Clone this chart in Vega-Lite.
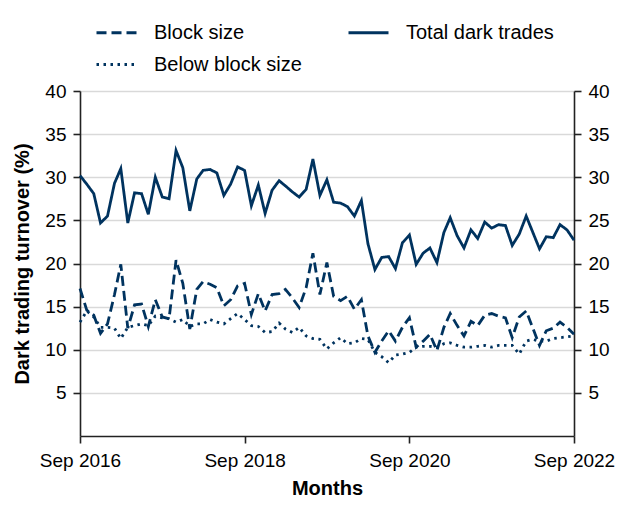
{
  "$schema": "https://vega.github.io/schema/vega-lite/v6.json",
  "description": "Dark trading turnover by trade size, monthly",
  "autosize": {"type": "none"},
  "width": 494,
  "height": 345,
  "padding": {"left": 80, "top": 91, "right": 60, "bottom": 77},
  "config": {
    "font": "Liberation Sans",
    "view": {"stroke": null},
    "axis": {
      "labelFont": "Liberation Sans",
      "labelFontSize": 19,
      "labelColor": "#000000",
      "titleFont": "Liberation Sans",
      "titleFontSize": 20,
      "titleFontWeight": "bold",
      "titleColor": "#000000",
      "domainColor": "#222222",
      "domainWidth": 1.6,
      "tickColor": "#222222",
      "tickWidth": 1.6,
      "tickSize": 7,
      "labelPadding": 7,
      "gridColor": "#d9d9d9",
      "gridWidth": 1.3
    },
    "legend": {
      "labelFont": "Liberation Sans",
      "labelFontSize": 20,
      "labelColor": "#000000"
    }
  },
  "data": {
    "values": [
      {"month": "2016-09", "Block size": 17.1, "Below block size": 13.2, "Total dark trades": 30.2},
      {"month": "2016-10", "Block size": 14.6, "Below block size": 14.5, "Total dark trades": 29.2},
      {"month": "2016-11", "Block size": 14.0, "Below block size": 13.8, "Total dark trades": 28.1},
      {"month": "2016-12", "Block size": 11.9, "Below block size": 12.6, "Total dark trades": 24.7},
      {"month": "2017-01", "Block size": 13.0, "Below block size": 12.6, "Total dark trades": 25.5},
      {"month": "2017-02", "Block size": 16.4, "Below block size": 12.5, "Total dark trades": 29.3},
      {"month": "2017-03", "Block size": 19.9, "Below block size": 11.3, "Total dark trades": 31.0},
      {"month": "2017-04", "Block size": 12.5, "Below block size": 12.6, "Total dark trades": 24.7},
      {"month": "2017-05", "Block size": 15.2, "Below block size": 12.8, "Total dark trades": 28.2},
      {"month": "2017-06", "Block size": 15.3, "Below block size": 13.0, "Total dark trades": 28.1},
      {"month": "2017-07", "Block size": 12.7, "Below block size": 12.8, "Total dark trades": 25.7},
      {"month": "2017-08", "Block size": 15.8, "Below block size": 13.9, "Total dark trades": 30.0},
      {"month": "2017-09", "Block size": 13.8, "Below block size": 13.7, "Total dark trades": 27.7},
      {"month": "2017-10", "Block size": 13.6, "Below block size": 13.6, "Total dark trades": 27.5},
      {"month": "2017-11", "Block size": 20.4, "Below block size": 13.2, "Total dark trades": 33.1},
      {"month": "2017-12", "Block size": 17.7, "Below block size": 13.5, "Total dark trades": 31.1},
      {"month": "2018-01", "Block size": 12.4, "Below block size": 12.7, "Total dark trades": 26.1},
      {"month": "2018-02", "Block size": 17.0, "Below block size": 13.0, "Total dark trades": 29.8},
      {"month": "2018-03", "Block size": 17.9, "Below block size": 13.0, "Total dark trades": 30.8},
      {"month": "2018-04", "Block size": 17.6, "Below block size": 13.5, "Total dark trades": 30.9},
      {"month": "2018-05", "Block size": 17.2, "Below block size": 13.2, "Total dark trades": 30.5},
      {"month": "2018-06", "Block size": 15.1, "Below block size": 13.0, "Total dark trades": 27.9},
      {"month": "2018-07", "Block size": 15.8, "Below block size": 13.6, "Total dark trades": 29.2},
      {"month": "2018-08", "Block size": 17.4, "Below block size": 14.2, "Total dark trades": 31.2},
      {"month": "2018-09", "Block size": 17.7, "Below block size": 13.5, "Total dark trades": 30.8},
      {"month": "2018-10", "Block size": 14.1, "Below block size": 12.8, "Total dark trades": 26.7},
      {"month": "2018-11", "Block size": 16.5, "Below block size": 12.7, "Total dark trades": 29.1},
      {"month": "2018-12", "Block size": 14.5, "Below block size": 12.0, "Total dark trades": 25.8},
      {"month": "2019-01", "Block size": 16.4, "Below block size": 12.1, "Total dark trades": 28.5},
      {"month": "2019-02", "Block size": 16.5, "Below block size": 13.1, "Total dark trades": 29.6},
      {"month": "2019-03", "Block size": 17.0, "Below block size": 12.4, "Total dark trades": 29.0},
      {"month": "2019-04", "Block size": 16.0, "Below block size": 12.0, "Total dark trades": 28.3},
      {"month": "2019-05", "Block size": 14.9, "Below block size": 12.6, "Total dark trades": 27.7},
      {"month": "2019-06", "Block size": 17.2, "Below block size": 11.6, "Total dark trades": 28.6},
      {"month": "2019-07", "Block size": 21.2, "Below block size": 11.3, "Total dark trades": 32.1},
      {"month": "2019-08", "Block size": 16.4, "Below block size": 11.2, "Total dark trades": 27.9},
      {"month": "2019-09", "Block size": 20.1, "Below block size": 10.1, "Total dark trades": 29.7},
      {"month": "2019-10", "Block size": 16.2, "Below block size": 10.8, "Total dark trades": 27.1},
      {"month": "2019-11", "Block size": 15.7, "Below block size": 11.4, "Total dark trades": 27.0},
      {"month": "2019-12", "Block size": 16.2, "Below block size": 10.7, "Total dark trades": 26.6},
      {"month": "2020-01", "Block size": 14.7, "Below block size": 10.8, "Total dark trades": 25.5},
      {"month": "2020-02", "Block size": 15.8, "Below block size": 11.3, "Total dark trades": 27.3},
      {"month": "2020-03", "Block size": 11.6, "Below block size": 11.2, "Total dark trades": 22.3},
      {"month": "2020-04", "Block size": 9.7, "Below block size": 9.7, "Total dark trades": 19.3},
      {"month": "2020-05", "Block size": 11.0, "Below block size": 9.2, "Total dark trades": 20.7},
      {"month": "2020-06", "Block size": 12.2, "Below block size": 8.5, "Total dark trades": 20.8},
      {"month": "2020-07", "Block size": 11.0, "Below block size": 9.4, "Total dark trades": 19.4},
      {"month": "2020-08", "Block size": 12.6, "Below block size": 9.5, "Total dark trades": 22.4},
      {"month": "2020-09", "Block size": 13.7, "Below block size": 9.7, "Total dark trades": 23.3},
      {"month": "2020-10", "Block size": 10.3, "Below block size": 10.3, "Total dark trades": 19.9},
      {"month": "2020-11", "Block size": 11.0, "Below block size": 10.4, "Total dark trades": 21.2},
      {"month": "2020-12", "Block size": 11.8, "Below block size": 10.4, "Total dark trades": 21.8},
      {"month": "2021-01", "Block size": 9.9, "Below block size": 10.3, "Total dark trades": 20.1},
      {"month": "2021-02", "Block size": 12.6, "Below block size": 10.7, "Total dark trades": 23.6},
      {"month": "2021-03", "Block size": 14.2, "Below block size": 10.8, "Total dark trades": 25.3},
      {"month": "2021-04", "Block size": 12.8, "Below block size": 10.5, "Total dark trades": 23.2},
      {"month": "2021-05", "Block size": 11.6, "Below block size": 10.3, "Total dark trades": 21.8},
      {"month": "2021-06", "Block size": 13.3, "Below block size": 10.3, "Total dark trades": 23.9},
      {"month": "2021-07", "Block size": 12.8, "Below block size": 10.4, "Total dark trades": 22.9},
      {"month": "2021-08", "Block size": 14.0, "Below block size": 10.5, "Total dark trades": 24.8},
      {"month": "2021-09", "Block size": 14.2, "Below block size": 10.3, "Total dark trades": 24.1},
      {"month": "2021-10", "Block size": 13.9, "Below block size": 10.5, "Total dark trades": 24.5},
      {"month": "2021-11", "Block size": 13.7, "Below block size": 10.5, "Total dark trades": 24.4},
      {"month": "2021-12", "Block size": 11.4, "Below block size": 10.5, "Total dark trades": 22.1},
      {"month": "2022-01", "Block size": 13.8, "Below block size": 9.5, "Total dark trades": 23.4},
      {"month": "2022-02", "Block size": 14.5, "Below block size": 11.0, "Total dark trades": 25.5},
      {"month": "2022-03", "Block size": 12.6, "Below block size": 11.2, "Total dark trades": 23.7},
      {"month": "2022-04", "Block size": 10.5, "Below block size": 11.0, "Total dark trades": 21.7},
      {"month": "2022-05", "Block size": 12.2, "Below block size": 11.0, "Total dark trades": 23.1},
      {"month": "2022-06", "Block size": 12.5, "Below block size": 11.3, "Total dark trades": 23.0},
      {"month": "2022-07", "Block size": 13.2, "Below block size": 11.4, "Total dark trades": 24.5},
      {"month": "2022-08", "Block size": 12.6, "Below block size": 11.5, "Total dark trades": 23.9},
      {"month": "2022-09", "Block size": 11.8, "Below block size": 11.6, "Total dark trades": 22.7}
    ]
  },
  "transform": [
    {"fold": ["Block size", "Below block size", "Total dark trades"], "as": ["series", "value"]}
  ],
  "encoding": {
    "x": {
      "field": "month",
      "type": "temporal",
      "title": "Months",
      "scale": {
        "type": "utc",
        "domain": [
          {"year": 2016, "month": 9, "date": 1, "utc": true},
          {"year": 2022, "month": 9, "date": 1, "utc": true}
        ]
      },
      "axis": {
        "values": [
          {"year": 2016, "month": 9, "date": 1, "utc": true},
          {"year": 2018, "month": 9, "date": 1, "utc": true},
          {"year": 2020, "month": 9, "date": 1, "utc": true},
          {"year": 2022, "month": 9, "date": 1, "utc": true}
        ],
        "format": "%b %Y",
        "grid": false,
        "labelFlush": false,
        "labelOverlap": false,
        "labelPadding": 8,
        "titlePadding": 8
      }
    },
    "y": {
      "field": "value",
      "type": "quantitative",
      "scale": {"domain": [0, 40], "nice": false}
    }
  },
  "layer": [
    {
      "mark": {"type": "line", "strokeWidth": 2.8, "color": "#00335f", "strokeCap": "butt"},
      "encoding": {
        "y": {
          "field": "value",
          "type": "quantitative",
          "title": "Dark trading turnover (%)",
          "axis": {
            "orient": "left",
            "values": [5, 10, 15, 20, 25, 30, 35, 40],
            "grid": true,
            "titlePadding": 12
          }
        },
        "strokeDash": {
          "field": "series",
          "type": "nominal",
          "scale": {
            "domain": ["Block size", "Total dark trades", "Below block size"],
            "range": [[10, 5], [1, 0], [2.5, 4.5]]
          },
          "legend": {
            "title": null,
            "orient": "none",
            "legendX": 15,
            "legendY": -80,
            "columns": 2,
            "direction": "horizontal",
            "padding": 0,
            "symbolType": "stroke",
            "symbolSize": 1600,
            "symbolStrokeWidth": 2.8,
            "symbolStrokeColor": "#00335f",
            "labelOffset": 16,
            "columnPadding": 40,
            "rowPadding": -9
          }
        }
      }
    },
    {
      "mark": {"type": "line", "strokeOpacity": 0},
      "encoding": {
        "detail": {"field": "series", "type": "nominal"},
        "y": {
          "field": "value",
          "type": "quantitative",
          "title": null,
          "axis": {
            "orient": "right",
            "values": [5, 10, 15, 20, 25, 30, 35, 40],
            "grid": false
          }
        }
      }
    }
  ],
  "resolve": {"axis": {"y": "independent"}}
}
